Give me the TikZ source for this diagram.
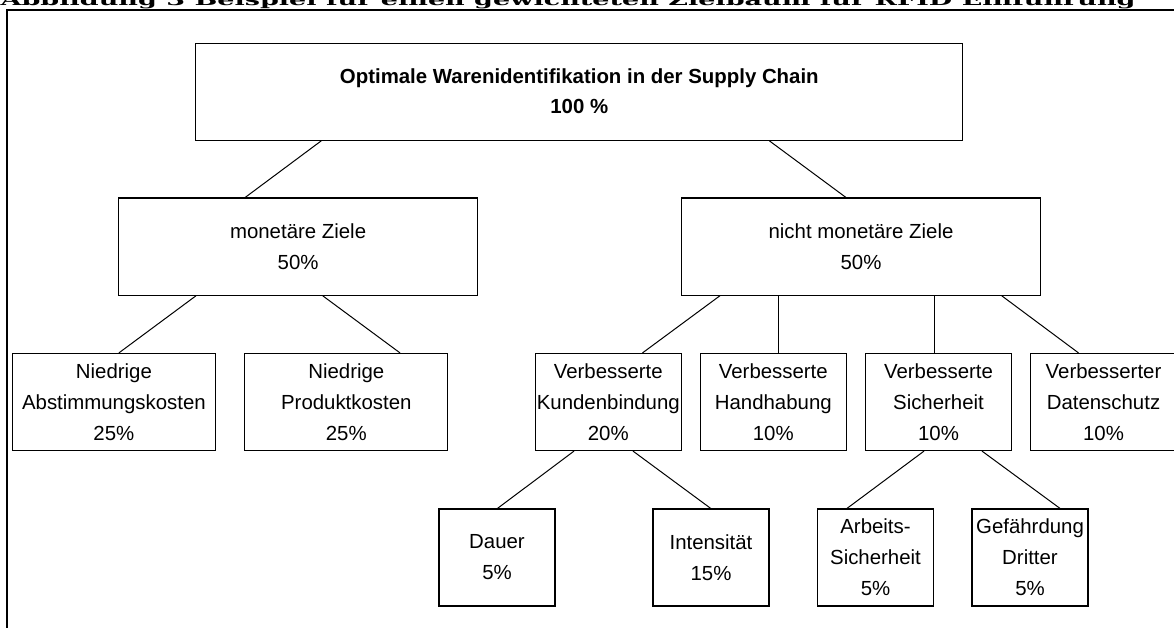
\documentclass[tikz,border=0pt]{standalone}
\usepackage{fontspec}
\setmainfont{Liberation Sans}
\newfontfamily\titelfont{DejaVu Serif}

\begin{document}
\begin{tikzpicture}
  [
    x = 1pt, y = -1pt, line width = 1pt,
    every node/.style = {draw, rectangle, align = center, inner sep = 0pt,
      line width = 1.2pt, font = \fontsize{20.4}{31}\selectfont},
    wurzel/.style = {minimum width = 767pt, minimum height = 97pt,
      font = \fontsize{20.4}{30}\selectfont\bfseries},
    breit/.style  = {minimum width = 359pt, minimum height = 97pt},
    mittel/.style = {minimum width = 203pt, minimum height = 97pt},
    schmal/.style = {minimum width = 146pt, minimum height = 97pt},
    klein/.style  = {minimum width = 116pt, minimum height = 97pt}
  ]
  \useasboundingbox (0,0) rectangle (1174,628);
  % Rahmen und abgeschnittene Ueberschrift
  \node [draw = none, anchor = base west] (Titel) at (0,5.5)
    {\resizebox{1135pt}{12pt}{\titelfont\bfseries Abbildung 3 Beispiel für einen gewichteten Zielbaum für RFID Einführung}};
  \draw [line width = 2pt] (7,660) -- (7,10) -- (1200,10);

  \node [wurzel] (Start) at (579.3,91.7) {Optimale Warenidentifikation in der Supply Chain\\100 \%};
  \node [breit] (A1) at (298.1,246.6) {monetäre Ziele\\50\%};
  \node [breit] (A2) at (861,246.6)   {nicht monetäre Ziele\\50\%};

  \node [mittel] (B1) at (113.9,402)  {Niedrige\\Abstimmungskosten\\25\%};
  \node [mittel] (B2) at (346.3,402)  {Niedrige\\Produktkosten\\25\%};
  \node [schmal] (B3) at (608.3,402)  {Verbesserte\\Kundenbindung\\20\%};
  \node [schmal] (B4) at (773.3,402)  {Verbesserte\\Handhabung\\10\%};
  \node [schmal] (B5) at (938.5,402)  {Verbesserte\\Sicherheit\\10\%};
  \node [schmal] (B6) at (1103.5,402) {Verbesserter\\Datenschutz\\10\%};

  \node [klein] (C1) at (497,557.5)  {Dauer\\5\%};
  \node [klein] (C2) at (711,557.5)  {Intensität\\15\%};
  \node [klein] (C3) at (875.5,557.5) {Arbeits-\\Sicherheit\\5\%};
  \node [klein] (C4) at (1030,557.5) {Gefährdung\\Dritter\\5\%};

  % Verbindungen
  \draw ([xshift=-258]Start.south) -- ([xshift=-53]A1.north);
  \draw ([xshift=190]Start.south)  -- ([xshift=-15]A2.north);
  \draw ([xshift=-102]A1.south) -- ([xshift=5]B1.north);
  \draw ([xshift=24.5]A1.south) -- ([xshift=53.7]B2.north);
  \draw ([xshift=-141]A2.south) -- ([xshift=34.2]B3.north);
  \draw ([xshift=-82.5]A2.south) -- ([xshift=5.2]B4.north);
  \draw ([xshift=73]A2.south) -- ([xshift=-4.5]B5.north);
  \draw ([xshift=140.6]A2.south) -- ([xshift=-25]B6.north);
  \draw ([xshift=-34.3]B3.south) -- ([xshift=0.5]C1.north);
  \draw ([xshift=24.7]B3.south) -- ([xshift=-0.3]C2.north);
  \draw ([xshift=-14.5]B5.south) -- ([xshift=-28.5]C3.north);
  \draw ([xshift=43.5]B5.south) -- ([xshift=30]C4.north);
\end{tikzpicture}
\end{document}
